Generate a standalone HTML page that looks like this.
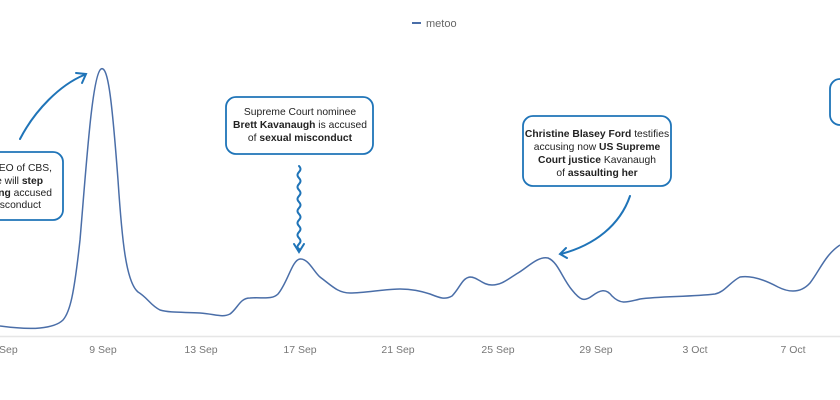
<!DOCTYPE html>
<html><head><style>
html,body{margin:0;padding:0;background:#fff;}
svg{display:block;font-family:"Liberation Sans",sans-serif;}
</style></head><body>
<svg width="840" height="400" viewBox="0 0 840 400" xmlns="http://www.w3.org/2000/svg">
<rect width="840" height="400" fill="#fff"/>
<line x1="412" y1="23" x2="421" y2="23" stroke="#4a6ea8" stroke-width="2"/>
<text x="426" y="27" font-size="11" fill="#666">metoo</text>
<line x1="0" y1="336.5" x2="840" y2="336.5" stroke="#e6e6e6" stroke-width="1.5"/>
<g font-size="10.5" fill="#777" text-anchor="middle">
<text x="4" y="353">5 Sep</text>
<text x="103" y="353">9 Sep</text>
<text x="201" y="353">13 Sep</text>
<text x="300" y="353">17 Sep</text>
<text x="398" y="353">21 Sep</text>
<text x="498" y="353">25 Sep</text>
<text x="596" y="353">29 Sep</text>
<text x="695" y="353">3 Oct</text>
<text x="793" y="353">7 Oct</text>
</g>
<path fill="none" stroke="#4a6ea8" stroke-width="1.5" stroke-linejoin="round" d="M0,326 C15,328 30,329 40,328 C50,327 58,325 63,320 C70,312 74,295 80,240 C86,170 92,75 101,69 C108,65 112,100 118,180 C122,240 126,282 138,292 C148,298 150,305 160,310 C170,313 185,312 200,313 C215,314 222,318 230,314 C238,308 240,298 250,298 C262,297 272,300 278,294 C288,282 292,260 300,259 C308,258 314,272 320,277 C332,286 338,293 350,293 C365,293 385,289 400,289 C412,289 420,291 430,294 C440,298 445,300 452,296 C460,288 462,278 470,277 C478,277 482,285 492,285 C502,285 508,279 518,273 C528,267 538,256 548,258 C558,262 562,278 572,290 C580,300 584,302 592,296 C600,290 606,288 612,296 C620,304 625,303 640,299 C660,296 690,297 715,294 C725,292 730,282 740,277 C752,275 765,280 778,287 C788,292 800,294 810,283 C820,270 825,255 840,245"/>
<g fill="#fff" stroke="#1f74b8" stroke-width="1.8">
<rect x="-20" y="152" width="83" height="68" rx="10"/>
<rect x="226" y="97" width="147" height="57" rx="10"/>
<rect x="523" y="116" width="148" height="70" rx="10"/>
<rect x="830" y="79" width="30" height="46" rx="10"/>
</g>
<g fill="none" stroke="#1f74b8" stroke-width="2" stroke-linecap="round">
<path d="M20,139 C35,110 60,85 84,75"/>
<path d="M76,73 L86,74 L82,83"/>
<path d="M299,166 q3,3 0,6 t0,6 t0,6 t0,6 t0,6 t0,6 t0,6 t0,6 t0,6 t0,6 t0,6 t0,6 t0,6 t0,5 L299,251"/>
<path d="M294,244 L299,252 L304,244"/>
<path d="M630,196 C620,225 595,245 561,254"/>
<path d="M566,248 L560,254 L567,258"/>
</g>
<g font-size="10.3" fill="#222" text-anchor="middle">
<text x="300" y="115">Supreme Court nominee</text>
<text x="300" y="128"><tspan font-weight="bold">Brett Kavanaugh</tspan> is accused</text>
<text x="300" y="141">of <tspan font-weight="bold">sexual misconduct</tspan></text>
<text x="597" y="137"><tspan font-weight="bold">Christine Blasey Ford</tspan> testifies</text>
<text x="597" y="150">accusing now <tspan font-weight="bold">US Supreme</tspan></text>
<text x="597" y="163"><tspan font-weight="bold">Court justice</tspan> Kavanaugh</text>
<text x="597" y="176">of <tspan font-weight="bold">assaulting her</tspan></text>
</g>
<g font-size="10.3" fill="#222" text-anchor="end">
<text x="52" y="171">CEO of CBS,</text>
<text x="43" y="184">e will <tspan font-weight="bold">step</tspan></text>
<text x="52" y="196"><tspan font-weight="bold">ng</tspan> accused</text>
<text x="41" y="208">sconduct</text>
</g>
</svg>
</body></html>
